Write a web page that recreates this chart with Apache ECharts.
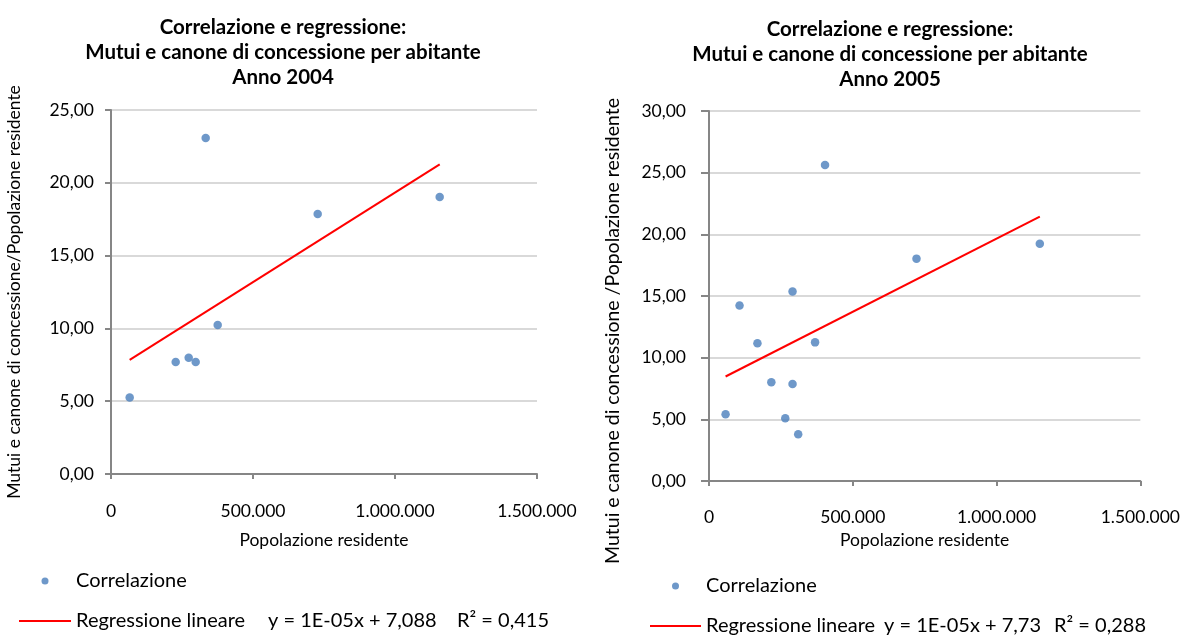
<!DOCTYPE html>
<html>
<head>
<meta charset="utf-8">
<script src="https://cdn.jsdelivr.net/npm/echarts@6/dist/echarts.min.js"></script>
<style>
  html, body { margin: 0; padding: 0; background: #ffffff; }
  #chart { width: 1183px; height: 637px; }
</style>
</head>
<body>
<div id="chart"></div>
<script>
// Anno 2004: popolazione residente e mutui/canone per abitante
const popolazione2004 = [65800, 227800, 273600, 298200, 333400, 375700, 727800, 1157400];
const mutui2004 = [5.25, 7.70, 7.98, 7.70, 23.07, 10.24, 17.85, 19.02];

// Anno 2005
const popolazione2005 = [57700, 106200, 168400, 216800, 265200, 290500, 290500, 310200, 368900, 403500, 721600, 1150400];
const mutui2005 = [5.42, 14.23, 11.16, 8.00, 5.09, 15.36, 7.87, 3.80, 11.24, 25.63, 18.03, 19.24];

const titoli = [
  'Correlazione e regressione:\nMutui e canone di concessione per abitante\nAnno 2004',
  'Correlazione e regressione:\nMutui e canone di concessione per abitante\nAnno 2005'
];
const nomiAsseY = [
  'Mutui e canone di concessione/Popolazione residente',
  'Mutui e canone di concessione /Popolazione residente'
];
const nomeAsseX = 'Popolazione residente';
const equazioni = ['y = 1E-05x + 7,088', 'y = 1E-05x + 7,73'];
const coefficientiR2 = ['R² = 0,415', 'R² = 0,288'];
const xTicks = [0, 500000, 1000000, 1500000];
const yMassimi = [25, 30];
const yPasso = 5;

const FONT = 'Lato, "Liberation Sans", sans-serif';
const BLU = '#4a7ebb';
const ROSSO = '#ff0000';
const TESTO = '#000000';

// Retta dei minimi quadrati, tracciata tra la x minima e la x massima
function rettaRegressione(xs, ys) {
  const n = xs.length;
  const mx = xs.reduce((s, v) => s + v, 0) / n;
  const my = ys.reduce((s, v) => s + v, 0) / n;
  let sxy = 0, sxx = 0;
  for (let i = 0; i < n; i++) {
    sxy += (xs[i] - mx) * (ys[i] - my);
    sxx += (xs[i] - mx) * (xs[i] - mx);
  }
  const b = sxy / sxx;
  const a = my - b * mx;
  const x0 = Math.min(...xs), x1 = Math.max(...xs);
  return [[x0, a + b * x0], [x1, a + b * x1]];
}

const migliaia = v => String(Math.round(v)).replace(/\B(?=(\d{3})+(?!\d))/g, '.');
const decimali = v => v.toFixed(2).replace('.', ',');

function asseX(grid) {
  return {
    type: 'value', gridIndex: grid,
    min: xTicks[0], max: xTicks[xTicks.length - 1], interval: xTicks[1] - xTicks[0],
    name: nomeAsseX, nameLocation: 'middle', nameGap: grid === 0 ? 57 : 37,
    nameTextStyle: { fontFamily: FONT, fontSize: 17.5, color: TESTO },
    axisLine: { show: true, lineStyle: { color: '#868686', width: 2 } },
    axisTick: { show: true, length: 5, lineStyle: { color: '#868686', width: 2 } },
    axisLabel: { fontFamily: FONT, fontSize: 17.5, color: TESTO, margin: grid === 0 ? 28 : 27, formatter: migliaia },
    splitLine: { show: false }
  };
}

function asseY(grid) {
  return {
    type: 'value', gridIndex: grid,
    min: 0, max: yMassimi[grid], interval: yPasso,
    name: nomiAsseY[grid], nameLocation: 'middle', nameGap: grid === 0 ? 88 : 86,
    nameTextStyle: grid === 0
      ? { fontFamily: FONT, fontSize: 17.5, color: TESTO }
      : { fontFamily: FONT, fontSize: 19.5, color: TESTO, padding: [0, 70, 0, 0] },
    axisLine: { show: true, lineStyle: { color: '#868686', width: 2 } },
    axisTick: { show: true, length: grid === 0 ? 6 : 8, lineStyle: { color: '#868686', width: 2 } },
    axisLabel: { fontFamily: FONT, fontSize: 17.5, color: TESTO, margin: grid === 0 ? 17 : 23, formatter: decimali },
    splitLine: { show: true, lineStyle: { color: '#d9d9d9', width: 2 } }
  };
}

const stileLegenda = (larghezze, rientro) => ({
  fontFamily: FONT, fontSize: 20, color: TESTO, lineHeight: 24,
  rich: {
    a: { fontFamily: FONT, fontSize: 20, color: TESTO, width: larghezze[0], padding: [0, 0, 0, rientro] },
    b: { fontFamily: FONT, fontSize: 20, color: TESTO, width: larghezze[1] },
    c: { fontFamily: FONT, fontSize: 20, color: TESTO }
  }
});

// Una legenda per riga: punti di correlazione, poi retta con equazione e R²
function legende(i, left, larghezzaLinea, top1, top2, larghezze) {
  const centroPunto = left + larghezzaLinea / 2;
  const inizioTesto = left + larghezzaLinea + 5;
  return [
    {
      orient: 'vertical', left: centroPunto - 3.5, top: top1, padding: 0,
      itemWidth: 7, itemHeight: 7, selectedMode: false,
      data: [{ name: 'Correlazione', icon: 'circle', itemStyle: { color: BLU } }],
      formatter: name => '{a|' + name + '}',
      textStyle: stileLegenda(larghezze, inizioTesto - (centroPunto + 3.5 + 5))
    },
    {
      orient: 'vertical', left: left, top: top2, padding: 0,
      itemWidth: larghezzaLinea, itemHeight: 2, selectedMode: false,
      data: [{ name: 'Regressione lineare', icon: 'rect', itemStyle: { color: ROSSO } }],
      formatter: name => '{a|' + name + '}{b|' + equazioni[i] + '}{c|' + coefficientiR2[i] + '}',
      textStyle: stileLegenda(larghezze, 0)
    }
  ];
}

function serie(grid, xs, ys) {
  return [
    {
      name: 'Correlazione', type: 'scatter', xAxisIndex: grid, yAxisIndex: grid,
      symbol: 'circle', symbolSize: 8.5, itemStyle: { color: BLU },
      data: xs.map((x, k) => [x, ys[k]])
    },
    {
      name: 'Regressione lineare', type: 'line', xAxisIndex: grid, yAxisIndex: grid,
      symbol: 'none', lineStyle: { color: ROSSO, width: 2 }, itemStyle: { color: ROSSO },
      data: rettaRegressione(xs, ys)
    }
  ];
}

const stileTitolo = { fontFamily: FONT, fontWeight: 'bold', fontSize: 20.5, lineHeight: 25, color: TESTO };

const chart = echarts.init(document.getElementById('chart'));
chart.setOption({
  backgroundColor: '#ffffff',
  animation: false,
  title: [
    { text: titoli[0], left: 283, top: 15, textAlign: 'center', padding: 0, textStyle: stileTitolo },
    { text: titoli[1], left: 890, top: 17, textAlign: 'center', padding: 0, textStyle: stileTitolo }
  ],
  grid: [
    { left: 111, right: 646, top: 110, bottom: 163, containLabel: false },
    { left: 709, right: 40, top: 111, bottom: 156, containLabel: false }
  ],
  xAxis: [asseX(0), asseX(1)],
  yAxis: [asseY(0), asseY(1)],
  legend: [
    ...legende(0, 19, 52, 569, 609, [192, 189]),
    ...legende(1, 650, 51, 574, 614, [178, 170])
  ],
  series: [...serie(0, popolazione2004, mutui2004), ...serie(1, popolazione2005, mutui2005)]
});
</script>
</body>
</html>
